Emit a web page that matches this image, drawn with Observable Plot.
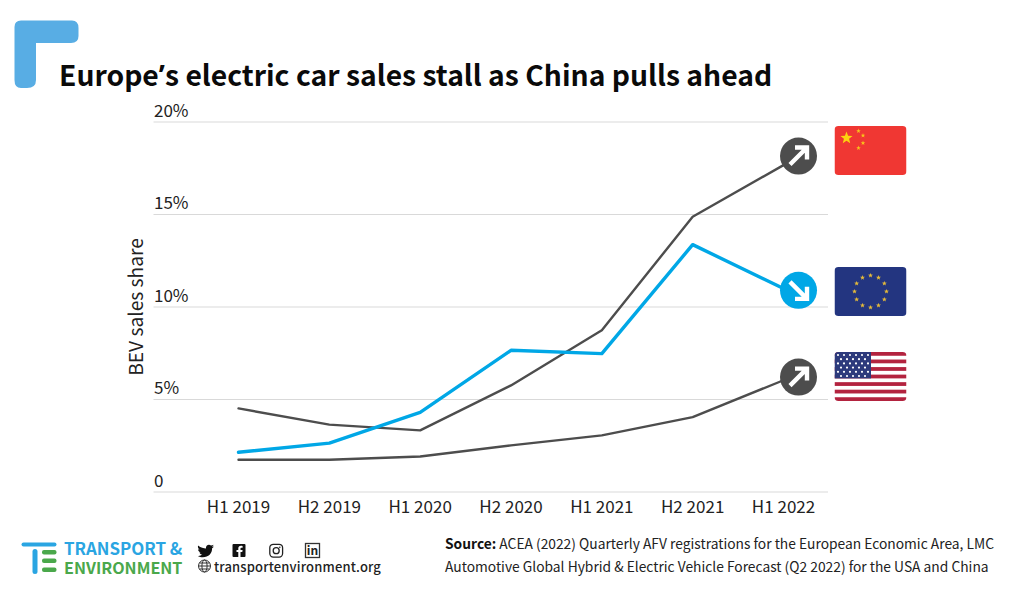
<!DOCTYPE html>
<html><head><meta charset="utf-8">
<script src="https://cdn.jsdelivr.net/npm/d3@7"></script>
<script src="https://cdn.jsdelivr.net/npm/@observablehq/plot@0.6"></script>
<style>
html,body{margin:0;padding:0;background:#fff;}
body{width:1024px;height:597px;position:relative;overflow:hidden;font-family:"Noto Sans CJK SC","Noto Sans",sans-serif;color:#111;}
.abs{position:absolute;white-space:nowrap;}
svg.ov{position:absolute;left:0;top:0;pointer-events:none;}
#chart{position:absolute;left:0;top:0;}
</style></head><body>
<div id="chart"></div>
<svg class="ov" id="overlay" width="1024" height="597" viewBox="0 0 1024 597"></svg>
<div class="abs" id="title" style="left:59px;top:51px;font-size:28.3px;font-weight:700;line-height:46px;color:#0a0a0a;">Europe<span style="font-family:'Noto Sans'">’</span>s electric car sales stall as China pulls ahead</div>
<div class="abs" style="left:64px;top:539px;font-size:16.9px;font-weight:700;line-height:18px;color:#2aa5e2;">TRANSPORT &amp;</div>
<div class="abs" style="left:64px;top:558px;font-size:16.1px;font-weight:700;line-height:18px;color:#4aa84b;">ENVIRONMENT</div>
<div class="abs" style="left:214px;top:558px;font-size:13px;font-weight:500;line-height:18px;color:#222;letter-spacing:.16px;">transportenvironment.org</div>
<div class="abs" style="left:445px;top:533px;font-size:13.8px;line-height:20px;color:#222;"><b style="color:#111">Source:</b> ACEA (2022) Quarterly AFV registrations for the European Economic Area, LMC</div>
<div class="abs" style="left:445px;top:556px;font-size:13.8px;line-height:20px;color:#222;">Automotive Global Hybrid &amp; Electric Vehicle Forecast (Q2 2022) for the USA and China</div>
<script>
const periods = ["H1 2019","H2 2019","H1 2020","H2 2020","H1 2021","H2 2021","H1 2022"];
const china = [4.52,3.64,3.33,5.76,8.74,14.88,17.67];
const europe = [2.15,2.64,4.3,7.66,7.48,13.37,11.0];
const usa = [1.74,1.74,1.92,2.52,3.06,4.05,6.04];
const yTicks = [0,5,10,15,20];
const yTickLabels = ["0","5%","10%","15%","20%"];
const badgeSeries = ["China","Europe","USA"];
const badgeValues = [18.16,10.9,6.21];
const GREY="#4d4d4d", BLUE="#00a7e6";

const rows = (name,vals)=>periods.map((p,i)=>({period:p,value:vals[i],series:name}));
const badges = badgeSeries.map((s,i)=>({series:s,period:periods[periods.length-1],value:badgeValues[i],up:s!=="Europe"}));
const arrowUp = {draw(c,size){c.moveTo(-8.5,8.5);c.lineTo(8,-8);c.moveTo(-3.5,-8.5);c.lineTo(8.5,-8.5);c.lineTo(8.5,3.5);}};
const arrowDown = {draw(c,size){c.moveTo(-8.5,-8.5);c.lineTo(8,8);c.moveTo(8.5,-3.5);c.lineTo(8.5,8.5);c.lineTo(-3.5,8.5);}};

const plot = Plot.plot({
  width:1024,height:597,
  marginTop:121.5,marginBottom:105.5,marginLeft:153.5,marginRight:196,
  style:{fontFamily:'"Noto Sans CJK SC","Noto Sans",sans-serif',background:"transparent",color:"#222",overflow:"visible"},
  x:{type:"point",domain:periods,range:[238,783],padding:0,round:false,label:null},
  y:{domain:[0,20],label:null},
  marks:[
    Plot.ruleY(yTicks,{stroke:"#d9d9d9",strokeWidth:1.1,strokeOpacity:1}),
    Plot.axisY({ticks:yTicks,tickFormat:(d)=>yTickLabels[yTicks.indexOf(d)],tickSize:0,tickPadding:0,textAnchor:"start",dy:-10.5,fontSize:17,label:null,fill:"#222"}),
    Plot.axisX({tickSize:0,tickPadding:9,fontSize:17,label:null,fill:"#222"}),
    Plot.text(["BEV sales share"],{frameAnchor:"left",textAnchor:"middle",rotate:-90,dx:-17,fontSize:19.2,fill:"#222"}),
    Plot.line(rows("China",china),{x:"period",y:"value",stroke:GREY,strokeWidth:2.4,curve:"linear"}),
    Plot.line(rows("USA",usa),{x:"period",y:"value",stroke:GREY,strokeWidth:2.4,curve:"linear"}),
    Plot.line(rows("Europe",europe),{x:"period",y:"value",stroke:BLUE,strokeWidth:3.4,curve:"linear"}),
    Plot.dot(badges,{x:"period",y:"value",dx:15,r:18.5,fill:d=>d.series==="Europe"?BLUE:GREY,stroke:"none"}),
    Plot.dot(badges.filter(d=>d.up),{x:"period",y:"value",dx:15,symbol:arrowUp,r:10,fill:"none",stroke:"#fff",strokeWidth:4.4}),
    Plot.dot(badges.filter(d=>!d.up),{x:"period",y:"value",dx:15,symbol:arrowDown,r:10,fill:"none",stroke:"#fff",strokeWidth:4.4})
  ]
});
document.getElementById("chart").append(plot);

/* decorative artwork: flags, corner mark, logo, social icons */
const star=(cx,cy,r,rot=0)=>{let p=[];for(let i=0;i<10;i++){const a=-Math.PI/2+rot+i*Math.PI/5,R=i%2?r*.42:r;p.push((cx+R*Math.cos(a)).toFixed(2)+","+(cy+R*Math.sin(a)).toFixed(2));}return p.join(" ");};
let s="";
s+=`<defs>
<clipPath id="cf1"><rect x="834.5" y="126" width="72" height="49" rx="4"/></clipPath>
<clipPath id="cf2"><rect x="834.5" y="267" width="72" height="49" rx="4"/></clipPath>
<clipPath id="cf3"><rect x="834.5" y="352" width="72" height="49" rx="4"/></clipPath></defs>`;
s+=`<path d="M21 20.5H72Q78.5 20.5 78.5 28V36Q78.5 43 71 43H36V80Q36 88 27 88H21Q14.5 88 14.5 80V27Q14.5 20.5 21 20.5Z" fill="#58ade4"/>`;
s+=`<g clip-path="url(#cf1)"><rect x="834.5" y="126" width="72" height="49" fill="#f03733"/>`;
s+=`<polygon points="${star(846.5,138,6.4)}" fill="#fcd20f"/>`;
[[858.5,131],[863,135.5],[863,143],[858.5,148]].forEach(([x,y])=>s+=`<polygon points="${star(x,y,2.4)}" fill="#f8c21a"/>`);
s+=`</g>`;
s+=`<g clip-path="url(#cf2)"><rect x="834.5" y="267" width="72" height="49" fill="#233580"/>`;
d3.range(12).forEach(i=>{const a=i*Math.PI/6;s+=`<polygon points="${star(870.5+16*Math.sin(a),291.5-16*Math.cos(a),2.6)}" fill="#e3b93a"/>`;});
s+=`</g>`;
s+=`<g clip-path="url(#cf3)"><rect x="834.5" y="352" width="72" height="49" fill="#fff"/>`;
d3.range(7).forEach(i=>s+=`<rect x="834.5" y="${352+i*7.54}" width="72" height="3.77" fill="#b3233f"/>`);
s+=`<rect x="834.5" y="352" width="36.5" height="26.4" fill="#2d3a7c"/>`;
d3.range(6).forEach(r=>d3.range(r%2?5:6).forEach(c=>s+=`<circle cx="${838+(r%2?3:0)+c*6}" cy="${355+r*4.2}" r="1.1" fill="#fff"/>`));
s+=`</g>`;
s+=`<rect x="21.5" y="542.5" width="35" height="4" rx="2" fill="#2aa5e2"/>`;
s+=`<rect x="32.5" y="549" width="5" height="25" rx="2.5" fill="#2aa5e2"/>`;
[550,558.5,567.5].forEach(y=>s+=`<rect x="42" y="${y}" width="14.5" height="4.5" rx="2" fill="#4aa84b"/>`);
s+=`<path d="M198 545.5c3 2.2 5.6 3 8 3-.6-3 2.8-5 5-3 1 0 2-.4 2.6-.8-.3 1-.9 1.7-1.6 2.2.7 0 1.3-.2 1.9-.5-.5.8-1.1 1.4-1.8 1.9.2 5-3.6 9-9.3 9-1.9 0-3.6-.5-5-1.4 1.6.2 3.2-.3 4.5-1.3-1.4 0-2.5-.9-2.9-2.1.5.1.9.1 1.3 0-1.5-.3-2.6-1.6-2.6-3.2.4.2.9.4 1.4.4-1.4-.9-1.8-2.8-1.5-3.7z" fill="#111"/>`;
s+=`<rect x="232.5" y="544" width="13" height="13" rx="1" fill="#111"/><path d="M240.5 557v-5h1.8l.3-2h-2.1v-1.3c0-.6.2-1 1-1h1.1v-1.8c-.6-.1-1.1-.1-1.6-.1-1.7 0-2.7 1-2.7 2.7V550h-1.8v2h1.8v5z" fill="#fff"/>`;
s+=`<rect x="269.8" y="544.3" width="12.8" height="12.8" rx="3.5" fill="none" stroke="#222" stroke-width="1.3"/><circle cx="276.2" cy="550.7" r="3" fill="none" stroke="#222" stroke-width="1.3"/><circle cx="279.8" cy="547.2" r=".8" fill="#222"/>`;
s+=`<rect x="305.5" y="543.5" width="14" height="14" fill="none" stroke="#333" stroke-width="1.3"/><text x="312.5" y="555" font-size="12" font-weight="700" text-anchor="middle" fill="#222">in</text>`;
s+=`<g fill="none" stroke="#333" stroke-width="1"><circle cx="204.5" cy="566" r="6"/><ellipse cx="204.5" cy="566" rx="2.6" ry="6"/><path d="M198.5 566h12M199.5 563h10M199.5 569h10"/></g>`;
document.getElementById("overlay").innerHTML=s;
</script>
</body></html>
